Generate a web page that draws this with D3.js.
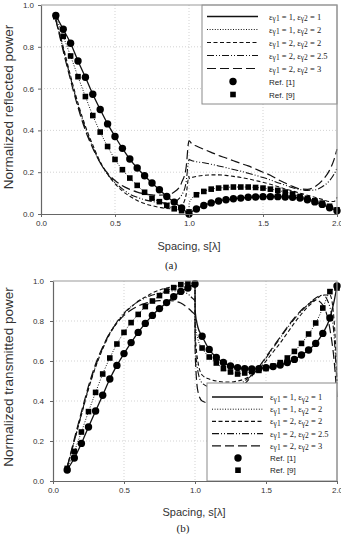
<!DOCTYPE html>
<html>
<head>
<meta charset="utf-8">
<script src="https://cdn.jsdelivr.net/npm/d3@7"></script>
<style>
  body { margin: 0; background: #fff; }
  svg { display: block; }
</style>
</head>
<body>
<div id="chart"></div>
<script>
// ---------------- data

// marker positions (Ref. [1] circles, Ref. [9] squares)
const markerX = [0.1,0.15,0.2,0.25,0.3,0.35,0.4,0.45,0.5,0.55,0.6,0.65,0.7,0.75,0.8,0.85,0.9,0.95,
  1.0,
  1.05,1.1,1.15,1.2,1.25,1.3,1.35,1.4,1.45,1.5,1.55,1.6,1.65,1.7,1.75,1.8,1.85,1.9,1.95,
  2.0]

// sample positions of the computed curves
const lineX = [0.1,0.15,0.2,0.25,0.3,0.35,0.4,0.45,0.5,0.55,0.6,0.65,0.7,0.75,0.8,0.85,0.9,0.95,
  0.98,1.0,1.001,1.02,
  1.05,1.1,1.15,1.2,1.25,1.3,1.35,1.4,1.45,1.5,1.55,1.6,1.65,1.7,1.75,1.8,1.85,1.9,1.95,
  1.98,2.0]

const seriesNames = ["εγ1 = 1, εγ2 = 1", "εγ1 = 1, εγ2 = 2", "εγ1 = 2, εγ2 = 2", "εγ1 = 2, εγ2 = 2.5", "εγ1 = 2, εγ2 = 3"]
const refNames = ["Ref. [1]", "Ref. [9]"]
const xTicks = [0, 0.5, 1, 1.5, 2]
const yTicks = [0, 0.2, 0.4, 0.6, 0.8, 1]

// (a) reflected power
const reflRef1 = [0.95,0.884,0.817,0.732,0.654,0.573,0.5,0.431,0.371,0.314,0.263,0.22,0.183,0.148,0.116,0.084,0.057,0.029,
  0.0,
  0.024,0.041,0.053,0.062,0.068,0.073,0.076,0.08,0.081,0.083,0.083,0.083,0.081,0.08,0.076,0.068,0.058,0.046,0.03,
  0.015]
const reflRef9 = [0.944,0.85,0.756,0.657,0.562,0.471,0.392,0.323,0.261,0.212,0.172,0.137,0.104,0.076,0.059,0.041,0.025,0.016,
  0.01,
  0.092,0.108,0.119,0.124,0.127,0.129,0.129,0.129,0.127,0.124,0.119,0.113,0.105,0.096,0.084,0.075,0.063,0.052,0.037,
  0.02]
const refl11 = [0.95,0.884,0.817,0.732,0.654,0.573,0.5,0.431,0.371,0.314,0.263,0.22,0.183,0.148,0.116,0.084,0.057,0.029,
  0.011,0.0,0.001,0.012,
  0.024,0.041,0.053,0.062,0.068,0.073,0.076,0.08,0.081,0.083,0.083,0.083,0.081,0.08,0.076,0.068,0.058,0.046,0.03,
  0.022,0.015]
const refl12 = [0.944,0.85,0.756,0.657,0.562,0.471,0.392,0.323,0.261,0.212,0.172,0.137,0.104,0.076,0.059,0.041,0.025,0.016,
  0.008,0.003,0.05,0.075,
  0.092,0.108,0.119,0.124,0.127,0.129,0.129,0.129,0.127,0.124,0.119,0.113,0.105,0.096,0.084,0.075,0.063,0.052,0.037,
  0.028,0.02]
const refl22 = [0.93,0.8,0.66,0.53,0.42,0.33,0.25,0.19,0.145,0.11,0.085,0.065,0.05,0.04,0.032,0.026,0.025,0.04,
  0.09,0.18,0.17,0.175,
  0.18,0.185,0.187,0.187,0.185,0.18,0.175,0.168,0.16,0.152,0.142,0.132,0.12,0.11,0.1,0.09,0.08,0.07,0.06,
  0.06,0.08]
const refl225 = [0.93,0.79,0.65,0.52,0.41,0.32,0.245,0.19,0.15,0.12,0.095,0.08,0.068,0.06,0.055,0.052,0.058,0.09,
  0.15,0.26,0.26,0.255,
  0.25,0.245,0.238,0.23,0.222,0.213,0.205,0.195,0.185,0.175,0.163,0.15,0.138,0.126,0.117,0.113,0.115,0.13,0.16,
  0.19,0.22]
const refl23 = [0.93,0.78,0.64,0.51,0.4,0.315,0.245,0.195,0.16,0.135,0.118,0.105,0.097,0.092,0.09,0.092,0.105,0.15,
  0.22,0.35,0.35,0.335,
  0.325,0.31,0.295,0.28,0.268,0.255,0.242,0.23,0.215,0.2,0.185,0.165,0.148,0.132,0.12,0.118,0.13,0.16,0.21,
  0.26,0.31]

// (b) transmitted power
const transRef1 = [0.055,0.115,0.188,0.27,0.35,0.429,0.51,0.578,0.637,0.692,0.743,0.788,0.828,0.862,0.892,0.921,0.948,0.965,
  0.985,
  0.724,0.658,0.618,0.593,0.575,0.567,0.562,0.56,0.562,0.567,0.572,0.58,0.592,0.608,0.63,0.655,0.688,0.738,0.815,
  0.975]
const transRef9 = [0.063,0.148,0.245,0.347,0.443,0.535,0.615,0.685,0.743,0.792,0.833,0.872,0.9,0.927,0.95,0.967,0.982,0.987,
  0.988,
  0.665,0.62,0.59,0.562,0.545,0.535,0.54,0.547,0.553,0.562,0.575,0.592,0.615,0.648,0.688,0.735,0.79,0.865,0.947,
  0.965]
const trans11 = [0.055,0.115,0.188,0.27,0.35,0.429,0.51,0.578,0.637,0.692,0.743,0.788,0.828,0.862,0.892,0.921,0.948,0.965,
  0.978,0.985,0.85,0.77,
  0.724,0.658,0.618,0.593,0.575,0.567,0.562,0.56,0.562,0.567,0.572,0.58,0.592,0.608,0.63,0.655,0.688,0.738,0.815,
  0.9,0.975]
const trans12 = [0.063,0.148,0.245,0.347,0.443,0.535,0.615,0.685,0.743,0.792,0.833,0.872,0.9,0.927,0.95,0.967,0.982,0.987,
  0.988,0.988,0.8,0.71,
  0.665,0.62,0.59,0.562,0.545,0.535,0.54,0.547,0.553,0.562,0.575,0.592,0.615,0.648,0.688,0.735,0.79,0.865,0.947,
  0.96,0.965]
const trans22 = [0.07,0.2,0.33,0.46,0.57,0.66,0.735,0.79,0.835,0.87,0.9,0.92,0.94,0.955,0.965,0.972,0.975,0.975,
  0.972,0.97,0.75,0.6,
  0.53,0.51,0.5,0.495,0.495,0.5,0.51,0.53,0.56,0.6,0.645,0.69,0.74,0.79,0.835,0.875,0.905,0.93,0.93,
  0.8,0.5]
const trans225 = [0.07,0.2,0.335,0.465,0.575,0.665,0.74,0.795,0.84,0.872,0.897,0.915,0.93,0.94,0.947,0.95,0.948,0.935,
  0.915,0.9,0.7,0.55,
  0.49,0.47,0.465,0.465,0.47,0.48,0.5,0.53,0.57,0.615,0.665,0.715,0.765,0.81,0.85,0.885,0.915,0.93,0.87,
  0.72,0.48]
const trans23 = [0.07,0.21,0.345,0.475,0.585,0.67,0.74,0.79,0.828,0.855,0.875,0.888,0.897,0.902,0.903,0.9,0.89,0.865,
  0.845,0.83,0.65,0.45,
  0.4,0.39,0.39,0.4,0.42,0.45,0.485,0.525,0.57,0.62,0.67,0.72,0.77,0.815,0.855,0.885,0.905,0.88,0.76,
  0.6,0.42]

// ---------------- styles

const lineStyles = [
  { dash: null, width: 1.3 },
  { dash: "1,1.6", width: 1 },
  { dash: "4,2.5", width: 1.1 },
  { dash: "7,2,1,2,1,2", width: 1.1 },
  { dash: "9,4", width: 1.2 }
]
const sansFont = "'Liberation Sans', Arial, sans-serif"
const serifFont = "'Liberation Serif', 'Times New Roman', serif"

const svg = d3.select("#chart")
  .append("svg")
  .attr("width", 341)
  .attr("height", 537)

function drawPanel(p) {
  const xScale = d3.scaleLinear().domain([0, 2]).range([p.left, p.right])
  const yScale = d3.scaleLinear().domain([0, 1]).range([p.bottom, p.top])
  const g = svg.append("g")

  // grid
  g.selectAll(".hgrid")
    .data(yTicks.slice(1, -1))
    .join("line")
    .attr("x1", p.left).attr("x2", p.right)
    .attr("y1", d => yScale(d)).attr("y2", d => yScale(d))
    .attr("stroke", "#c8c8c8").attr("stroke-width", 0.8)
    .attr("stroke-dasharray", "1,2")
  g.selectAll(".vgrid")
    .data(xTicks.slice(1, -1))
    .join("line")
    .attr("y1", p.top).attr("y2", p.bottom)
    .attr("x1", d => xScale(d)).attr("x2", d => xScale(d))
    .attr("stroke", "#c8c8c8").attr("stroke-width", 0.8)
    .attr("stroke-dasharray", "1,2")

  // curves
  const lineGen = d3.line()
    .x((d, i) => xScale(lineX[i]))
    .y(d => yScale(d))
    .curve(d3.curveMonotoneX)

  g.selectAll(".curve")
    .data(p.lines)
    .join("path")
    .attr("d", d => lineGen(d))
    .attr("fill", "none")
    .attr("stroke", "#111")
    .attr("stroke-width", (d, i) => lineStyles[i].width)
    .attr("stroke-dasharray", (d, i) => lineStyles[i].dash)

  // markers
  g.selectAll(".sq")
    .data(p.ref9)
    .join("rect")
    .attr("x", (d, i) => xScale(markerX[i]) - 2.8)
    .attr("y", d => yScale(d) - 2.8)
    .attr("width", 5.6).attr("height", 5.6)
    .attr("fill", "#000")
  g.selectAll(".dot")
    .data(p.ref1)
    .join("circle")
    .attr("cx", (d, i) => xScale(markerX[i]))
    .attr("cy", d => yScale(d))
    .attr("r", 3.7)
    .attr("fill", "#000")

  // legend
  const lg = p.legend
  g.append("rect")
    .attr("x", lg.x).attr("y", lg.y)
    .attr("width", lg.w).attr("height", lg.h)
    .attr("fill", "#fff").attr("stroke", "#8a8a8a").attr("stroke-width", 1)

  const rowY = i => lg.y + lg.first + i * lg.step

  seriesNames.forEach((name, i) => {
    g.append("line")
      .attr("x1", lg.x + 5).attr("x2", lg.x + 56)
      .attr("y1", rowY(i)).attr("y2", rowY(i))
      .attr("stroke", "#111")
      .attr("stroke-width", lineStyles[i].width)
      .attr("stroke-dasharray", lineStyles[i].dash)

    const parts = name.match(/ε(γ\d)(.*?), ε(γ\d)(.*)/)
    const t = g.append("text")
      .attr("x", lg.x + lg.textDx).attr("y", rowY(i) + 3)
      .style("font-family", serifFont)
      .style("font-size", "8.5px")
      .attr("fill", "#222")
    t.append("tspan").text("ε")
    t.append("tspan").attr("dy", 1.5).style("font-size", "7.5px").text(parts[1])
    t.append("tspan").attr("dy", -1.5).text(parts[2] + ", ε")
    t.append("tspan").attr("dy", 1.5).style("font-size", "7.5px").text(parts[3])
    t.append("tspan").attr("dy", -1.5).text(parts[4])
  })

  g.append("circle")
    .attr("cx", lg.x + 31).attr("cy", rowY(5))
    .attr("r", 3.7).attr("fill", "#000")
  g.append("rect")
    .attr("x", lg.x + 31 - 2.8).attr("y", rowY(6) - 2.8)
    .attr("width", 5.6).attr("height", 5.6).attr("fill", "#000")

  refNames.forEach((name, i) => {
    g.append("text")
      .attr("x", lg.x + lg.textDx).attr("y", rowY(5 + i) + 3)
      .text(name)
      .style("font-family", sansFont)
      .style("font-size", "8px")
      .attr("fill", "#222")
  })

  // frame (top / right)
  g.append("path")
    .attr("d", `M${p.left},${p.top}H${p.right}V${p.bottom}`)
    .attr("fill", "none").attr("stroke", "#9a9a9a").attr("stroke-width", 1.2)

  // axes
  const xAxis = d3.axisBottom(xScale)
    .tickValues(xTicks)
    .tickFormat(d3.format(".1f"))
    .tickSize(3).tickSizeOuter(0).tickPadding(3)
  const yAxis = d3.axisLeft(yScale)
    .tickValues(yTicks)
    .tickFormat(d3.format(".1f"))
    .tickSize(3).tickSizeOuter(0).tickPadding(p.yPad)

  const xg = g.append("g")
    .attr("transform", `translate(0,${p.bottom})`)
    .call(xAxis)
  const yg = g.append("g")
    .attr("transform", `translate(${p.left},0)`)
    .call(yAxis)

  ;[xg, yg].forEach(a => {
    a.select(".domain").attr("stroke", "#666").attr("stroke-width", 1.2)
    a.selectAll(".tick line").attr("stroke", "#666")
    a.selectAll(".tick text")
      .attr("fill", "#333")
      .style("font-family", sansFont)
      .style("font-size", "8px")
  })

  // titles
  g.append("text")
    .attr("transform", `translate(13,${p.yTitleY}) rotate(-90)`)
    .attr("text-anchor", "middle")
    .text(p.yTitle)
    .style("font-family", sansFont)
    .style("font-size", "13.5px")
    .attr("fill", "#333")

  g.append("text")
    .attr("x", p.xTitleX).attr("y", p.xTitleY)
    .attr("text-anchor", "middle")
    .text("Spacing, s[λ]")
    .style("font-family", sansFont)
    .style("font-size", "11px")
    .attr("fill", "#333")

  g.append("text")
    .attr("x", p.capX).attr("y", p.capY)
    .attr("text-anchor", "middle")
    .text(p.caption)
    .style("font-family", serifFont)
    .style("font-size", "11px")
    .attr("fill", "#222")
}

drawPanel({
  left: 41, right: 337, top: 5, bottom: 214,
  lines: [refl11, refl12, refl22, refl225, refl23],
  ref1: reflRef1, ref9: reflRef9,
  legend: { x: 202, y: 5, w: 135, h: 99, first: 11.5, step: 13, textDx: 67 },
  yPad: 4,
  yTitle: "Normalized reflected power", yTitleY: 107,
  xTitleX: 189, xTitleY: 250,
  caption: "(a)", capX: 171, capY: 269
})

drawPanel({
  left: 53, right: 337, top: 281, bottom: 481,
  lines: [trans11, trans12, trans22, trans225, trans23],
  ref1: transRef1, ref9: transRef9,
  legend: { x: 207, y: 383, w: 130, h: 98, first: 14, step: 12.2, textDx: 63 },
  yPad: 6,
  yTitle: "Normalized transmitted power", yTitleY: 377,
  xTitleX: 194, xTitleY: 516,
  caption: "(b)", capX: 183, capY: 532
})
</script>
</body>
</html>
